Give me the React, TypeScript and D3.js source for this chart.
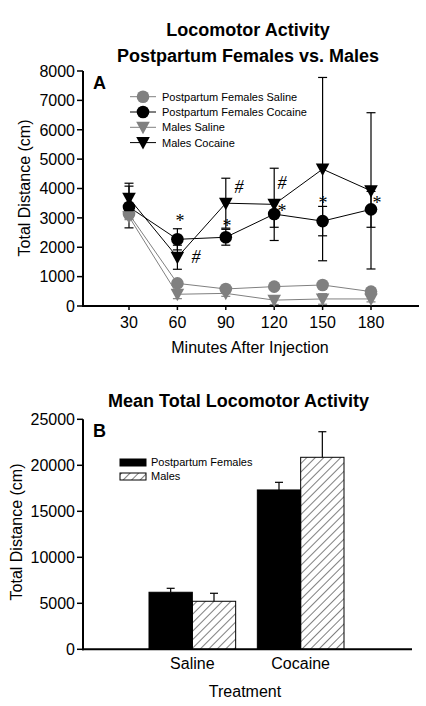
import React from "react";
import * as d3 from "d3";

// ---------- Panel A data ----------
const minutes = [30, 60, 90, 120, 150, 180];
const xTicksA = [30, 60, 90, 120, 150, 180];
const yTicksA = [0, 1000, 2000, 3000, 4000, 5000, 6000, 7000, 8000];

const pfSaline = [3130, 770, 580, 660, 715, 490];
const pfSalineSE = [100, 120, 80, 80, 80, 80];
const pfCocaine = [3370, 2270, 2340, 3130, 2890, 3290];
const pfCocaineSE = [710, 360, 270, 450, 500, 610];
const mSaline = [3040, 400, 430, 200, 240, 240];
const mSalineSE = [100, 150, 100, 150, 180, 100];
const mCocaine = [3670, 1660, 3500, 3460, 4660, 3920];
const mCocaineSE = [510, 410, 850, 1230, 3120, 2660];

const seriesNames = [
  "Postpartum Females Saline",
  "Postpartum Females Cocaine",
  "Males Saline",
  "Males Cocaine",
];

// annotation glyphs (minute, distance) in data units
const annSymbols = ["*", "#", "#", "*", "#", "*", "*", "*"];
const annMinutes = [61.6, 71.5, 98.2, 90.8, 124.8, 124.8, 150.2, 183.7];
const annValues = [3000, 1670, 4050, 2830, 4190, 3330, 3610, 3610];

// ---------- Panel B data ----------
const treatments = ["Saline", "Cocaine"];
const groups = ["Postpartum Females", "Males"];
const femalesMean = [6200, 17320];
const femalesSE = [430, 830];
const malesMean = [5220, 20870];
const malesSE = [870, 2780];
const yTicksB = [0, 5000, 10000, 15000, 20000, 25000];

const FONT = "'Liberation Sans', Arial, sans-serif";

export default function App() {
  // Panel A scales
  const xA = d3.scaleLinear().domain([0, 210]).range([80.6, 419.4]);
  const yA = d3.scaleLinear().domain([0, 8000]).range([306, 71]);

  const series = [
    { name: seriesNames[0], vals: pfSaline, se: pfSalineSE, color: "#808080", shape: "circle" },
    { name: seriesNames[1], vals: pfCocaine, se: pfCocaineSE, color: "#000000", shape: "circle" },
    { name: seriesNames[2], vals: mSaline, se: mSalineSE, color: "#808080", shape: "tri" },
    { name: seriesNames[3], vals: mCocaine, se: mCocaineSE, color: "#000000", shape: "tri" },
  ];

  const line = d3
    .line<number>()
    .x((_, i) => xA(minutes[i]))
    .y((d) => yA(d));

  const marker = (shape: string, cx: number, cy: number, color: string, key: string) =>
    shape === "circle" ? (
      <circle key={key} cx={cx} cy={cy} r={6.3} fill={color} />
    ) : (
      <path
        key={key}
        d={`M${cx - 6.8},${cy - 5.5}L${cx + 6.8},${cy - 5.5}L${cx},${cy + 7}Z`}
        fill={color}
      />
    );

  // Panel B scales
  const xB = d3.scaleBand().domain(treatments).range([149, 344]).paddingInner(0.2).paddingOuter(0);
  const xBin = d3.scaleBand().domain(groups).range([0, xB.bandwidth()]).padding(0);
  const yB = d3.scaleLinear().domain([0, 25000]).range([649.3, 419.3]);
  const barData = [
    { g: groups[0], means: femalesMean, ses: femalesSE },
    { g: groups[1], means: malesMean, ses: malesSE },
  ];

  return (
    <svg width={426} height={706} style={{ position: "absolute", left: 0, top: 0, background: "#fff" }} fontFamily={FONT}>
      <defs>
        <pattern id="hatch" patternUnits="userSpaceOnUse" width={6} height={6} patternTransform="rotate(45)">
          <line x1={0} y1={0} x2={0} y2={6} stroke="#000" strokeWidth={1} />
        </pattern>
      </defs>
      <rect width={426} height={706} fill="#fff" />

      {/* ---------- Panel A ---------- */}
      <text x={248} y={36} textAnchor="middle" fontWeight="bold" fontSize={18}>Locomotor Activity</text>
      <text x={248} y={62} textAnchor="middle" fontWeight="bold" fontSize={18}>Postpartum Females vs. Males</text>
      <text x={93} y={89} fontWeight="bold" fontSize={18}>A</text>

      {/* axes */}
      <line x1={83} x2={83} y1={yA(8000)} y2={yA(0) + 1} stroke="#000" strokeWidth={2} />
      <line x1={82} x2={419} y1={yA(0)} y2={yA(0)} stroke="#000" strokeWidth={2} />
      {yTicksA.map((t) => (
        <g key={"ya" + t}>
          <line x1={77} x2={83} y1={yA(t)} y2={yA(t)} stroke="#000" strokeWidth={1.5} />
          <text x={75} y={yA(t)} dy="0.36em" textAnchor="end" fontSize={16}>{t}</text>
        </g>
      ))}
      {xTicksA.map((t) => (
        <g key={"xa" + t}>
          <line x1={xA(t)} x2={xA(t)} y1={yA(0)} y2={yA(0) + 4} stroke="#000" strokeWidth={1.5} />
          <text x={xA(t)} y={328} textAnchor="middle" fontSize={16}>{t}</text>
        </g>
      ))}
      <text x={250} y={353} textAnchor="middle" fontSize={16}>Minutes After Injection</text>
      <text transform="translate(30,188) rotate(-90)" textAnchor="middle" fontSize={16}>Total Distance (cm)</text>

      {/* lines */}
      {series.map((s) => (
        <path key={"l" + s.name} d={line(s.vals) || ""} fill="none" stroke={s.color} strokeWidth={1} />
      ))}
      {/* error bars */}
      {series.map((s) =>
        s.vals.map((v, i) => {
          const cx = xA(minutes[i]);
          const top = yA(v + s.se[i]);
          const bot = yA(Math.max(0, v - s.se[i]));
          return (
            <g key={"e" + s.name + i} stroke={s.color} strokeWidth={1.2}>
              <line x1={cx} x2={cx} y1={top} y2={bot} />
              <line x1={cx - 4.5} x2={cx + 4.5} y1={top} y2={top} />
              <line x1={cx - 4.5} x2={cx + 4.5} y1={bot} y2={bot} />
            </g>
          );
        })
      )}
      {/* markers */}
      {series.map((s) => s.vals.map((v, i) => marker(s.shape, xA(minutes[i]), yA(v), s.color, "m" + s.name + i)))}

      {/* annotations */}
      {annSymbols.map((sym, i) => (
        <text
          key={"ann" + i}
          x={xA(annMinutes[i])}
          y={yA(annValues[i])}
          dy={sym === "*" ? "0.5em" : "0.35em"}
          textAnchor="middle"
          fontSize={18}
          fontFamily="'Liberation Serif', 'Times New Roman', serif"
          fontStyle={sym === "#" ? "italic" : "normal"}
        >
          {sym}
        </text>
      ))}

      {/* legend A */}
      {series.map((s, i) => {
        const ly = 96.7 + i * 15.3;
        return (
          <g key={"lg" + s.name}>
            <line x1={130} x2={156} y1={ly} y2={ly} stroke={s.color} strokeWidth={1} />
            {marker(s.shape, 143, ly, s.color, "lgm" + i)}
            <text x={162} y={ly} dy="0.36em" fontSize={11}>{s.name}</text>
          </g>
        );
      })}

      {/* ---------- Panel B ---------- */}
      <text x={238.5} y={407} textAnchor="middle" fontWeight="bold" fontSize={18}>Mean Total Locomotor Activity</text>
      <text x={93} y={437} fontWeight="bold" fontSize={18}>B</text>

      {/* bars */}
      {barData.map((b) =>
        treatments.map((t, i) => {
          const x0 = (xB(t) || 0) + (xBin(b.g) || 0);
          const w = xBin.bandwidth();
          const top = yB(b.means[i]);
          const et = yB(b.means[i] + b.ses[i]);
          const cx = x0 + w / 2;
          return (
            <g key={"bar" + b.g + t}>
              <line x1={cx} x2={cx} y1={et} y2={top} stroke="#000" strokeWidth={1.2} />
              <line x1={cx - 4} x2={cx + 4} y1={et} y2={et} stroke="#000" strokeWidth={1.2} />
              <rect
                x={x0}
                y={top}
                width={w}
                height={yB(0) - top}
                fill={b.g === groups[0] ? "#000" : "url(#hatch)"}
                stroke="#000"
                strokeWidth={1}
              />
            </g>
          );
        })
      )}

      <line x1={83} x2={83} y1={yB(25000)} y2={yB(0) + 1} stroke="#000" strokeWidth={2} />
      <line x1={82} x2={412} y1={yB(0)} y2={yB(0)} stroke="#000" strokeWidth={2} />
      {yTicksB.map((t) => (
        <g key={"yb" + t}>
          <line x1={77} x2={83} y1={yB(t)} y2={yB(t)} stroke="#000" strokeWidth={1.5} />
          <text x={75} y={yB(t)} dy="0.36em" textAnchor="end" fontSize={16}>{t}</text>
        </g>
      ))}
      {treatments.map((t) => (
        <text key={"xb" + t} x={(xB(t) || 0) + xB.bandwidth() / 2} y={669} textAnchor="middle" fontSize={16}>{t}</text>
      ))}
      <text x={245} y={697} textAnchor="middle" fontSize={16}>Treatment</text>
      <text transform="translate(22,532) rotate(-90)" textAnchor="middle" fontSize={16}>Total Distance (cm)</text>

      {/* legend B */}
      {groups.map((g, i) => {
        const ly = 459 + i * 14;
        return (
          <g key={"lgb" + g}>
            <rect x={120} y={ly} width={26} height={7} fill={i === 0 ? "#000" : "url(#hatch)"} stroke="#000" strokeWidth={1} />
            <text x={151} y={ly + 3.5} dy="0.36em" fontSize={11}>{g}</text>
          </g>
        );
      })}
    </svg>
  );
}
